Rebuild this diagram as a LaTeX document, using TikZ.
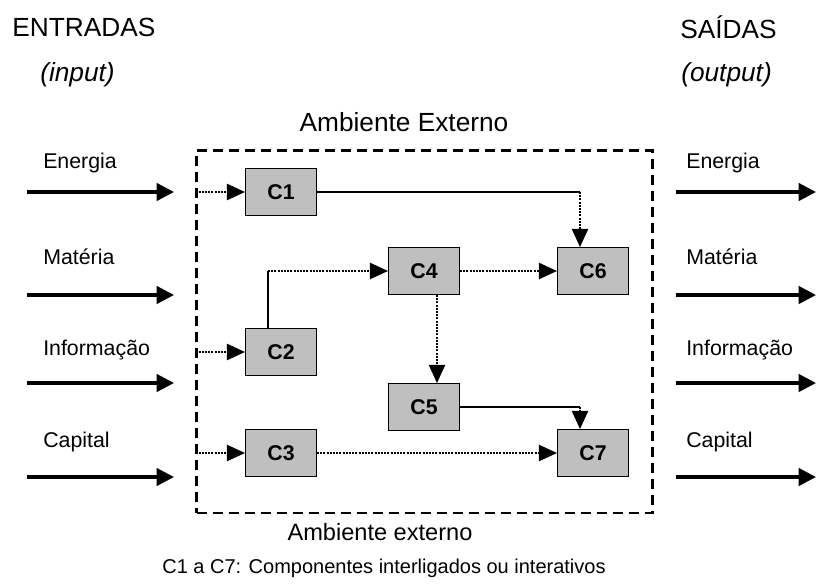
\documentclass[tikz,border=0pt]{standalone}
\usepackage{fontspec}
\setmainfont{Liberation Sans}
\usetikzlibrary{arrows.meta}
\begin{document}
\begin{tikzpicture}[x=0.75pt,y=-0.75pt,
  comp/.style={draw=black,line width=1.1pt,fill=black!25,minimum width=53pt,minimum height=35pt,inner sep=0pt,font=\fontsize{16}{18}\selectfont\bfseries},
  envbox/.style={draw=black,line width=2pt,dash pattern=on 7.5pt off 4.5pt,minimum width=342pt,minimum height=272pt,inner sep=0pt},
  bigarrow/.style={line width=2.4pt,-{Triangle[length=13pt,width=13pt]}},
  dotarrow/.style={line width=2pt,dash pattern=on 1.5pt off 0.9pt,-{Triangle[length=13.5pt,width=12.5pt,line width=0pt]}},
  thinline/.style={line width=0.8pt},
  flowlabel/.style={anchor=west,inner sep=0pt,font=\fontsize{16}{18}\selectfont},
  heading/.style={inner sep=0pt,font=\fontsize{19.7}{22}\selectfont}
]
\useasboundingbox (0,0) rectangle (816,585);

% headings
\node[heading,anchor=west] (ent) at (12,27) {ENTRADAS};
\node[heading,anchor=west] (inp) at (40,75) {\itshape (input)};
\node[heading,anchor=west] (sai) at (680,27) {SAÍDAS};
\node[heading,anchor=west] (outp) at (681,75) {\itshape (output)};
\node[heading] (ambt) at (404,122) {Ambiente Externo};
\node[inner sep=0pt,font=\fontsize{17.7}{20}\selectfont] (ambb) at (380,532) {Ambiente externo};
\node[inner sep=0pt,font=\fontsize{15}{18}\selectfont] (cap) at (384,568) {C1 a C7: Componentes interligados ou interativos};

% environment
\node[envbox] (env) at (424.7,331.5) {};

% components
\node[comp] (C1) at (281,192) {C1};
\node[comp] (C2) at (281,352) {C2};
\node[comp] (C3) at (281,453) {C3};
\node[comp] (C4) at (424,271) {C4};
\node[comp] (C5) at (424,407) {C5};
\node[comp] (C6) at (593,271) {C6};
\node[comp] (C7) at (593,453) {C7};

% input labels and arrows
\node[flowlabel] (le) at (43,163) {Energia};
\node[flowlabel] (lm) at (43,257) {Matéria};
\node[flowlabel] (li) at (43,350) {Informação};
\node[flowlabel] (lc) at (43,442) {Capital};
\node[flowlabel] (re) at (686,163) {Energia};
\node[flowlabel] (rm) at (686,257) {Matéria};
\node[flowlabel] (ri) at (686,350) {Informação};
\node[flowlabel] (rc) at (686,442) {Capital};

\foreach \n/\y in {1/192,2/295,3/383,4/477}{
  \coordinate (ia\n) at (27,\y);
  \coordinate (ib\n) at (174,\y);
  \coordinate (oa\n) at (676,\y);
  \coordinate (ob\n) at (816,\y);
  \draw[bigarrow] (ia\n) -- (ib\n);
  \draw[bigarrow] (oa\n) -- (ob\n);
}

% entries into components
\draw[dotarrow] (env.west |- C1) -- (C1.west);
\draw[dotarrow] (env.west |- C2) -- (C2.west);
\draw[dotarrow] (env.west |- C3) -- (C3.west);

% C1 -> C6
\coordinate (k1) at (580,192);
\draw[thinline] (C1.east) -- (k1);
\draw[dotarrow] (k1) -- (k1 |- C6.north);

% C2 -> C4
\coordinate (k2) at (268,271);
\draw[thinline] (k2 |- C2.north) -- (k2);
\draw[dotarrow] (k2) -- (C4.west);

% C4 -> C6
\draw[dotarrow] (C4.east) -- (C6.west);

% C4 -> C5
\coordinate (k3) at (437,300);
\draw[dotarrow] (C4.south -| k3) -- (C5.north -| k3);

% C5 -> C7
\coordinate (k4) at (580,407);
\draw[thinline] (C5.east) -- (k4);
\draw[dotarrow] (k4) -- (k4 |- C7.north);

% C3 -> C7
\draw[dotarrow] (C3.east) -- (C7.west);
\end{tikzpicture}
\end{document}
